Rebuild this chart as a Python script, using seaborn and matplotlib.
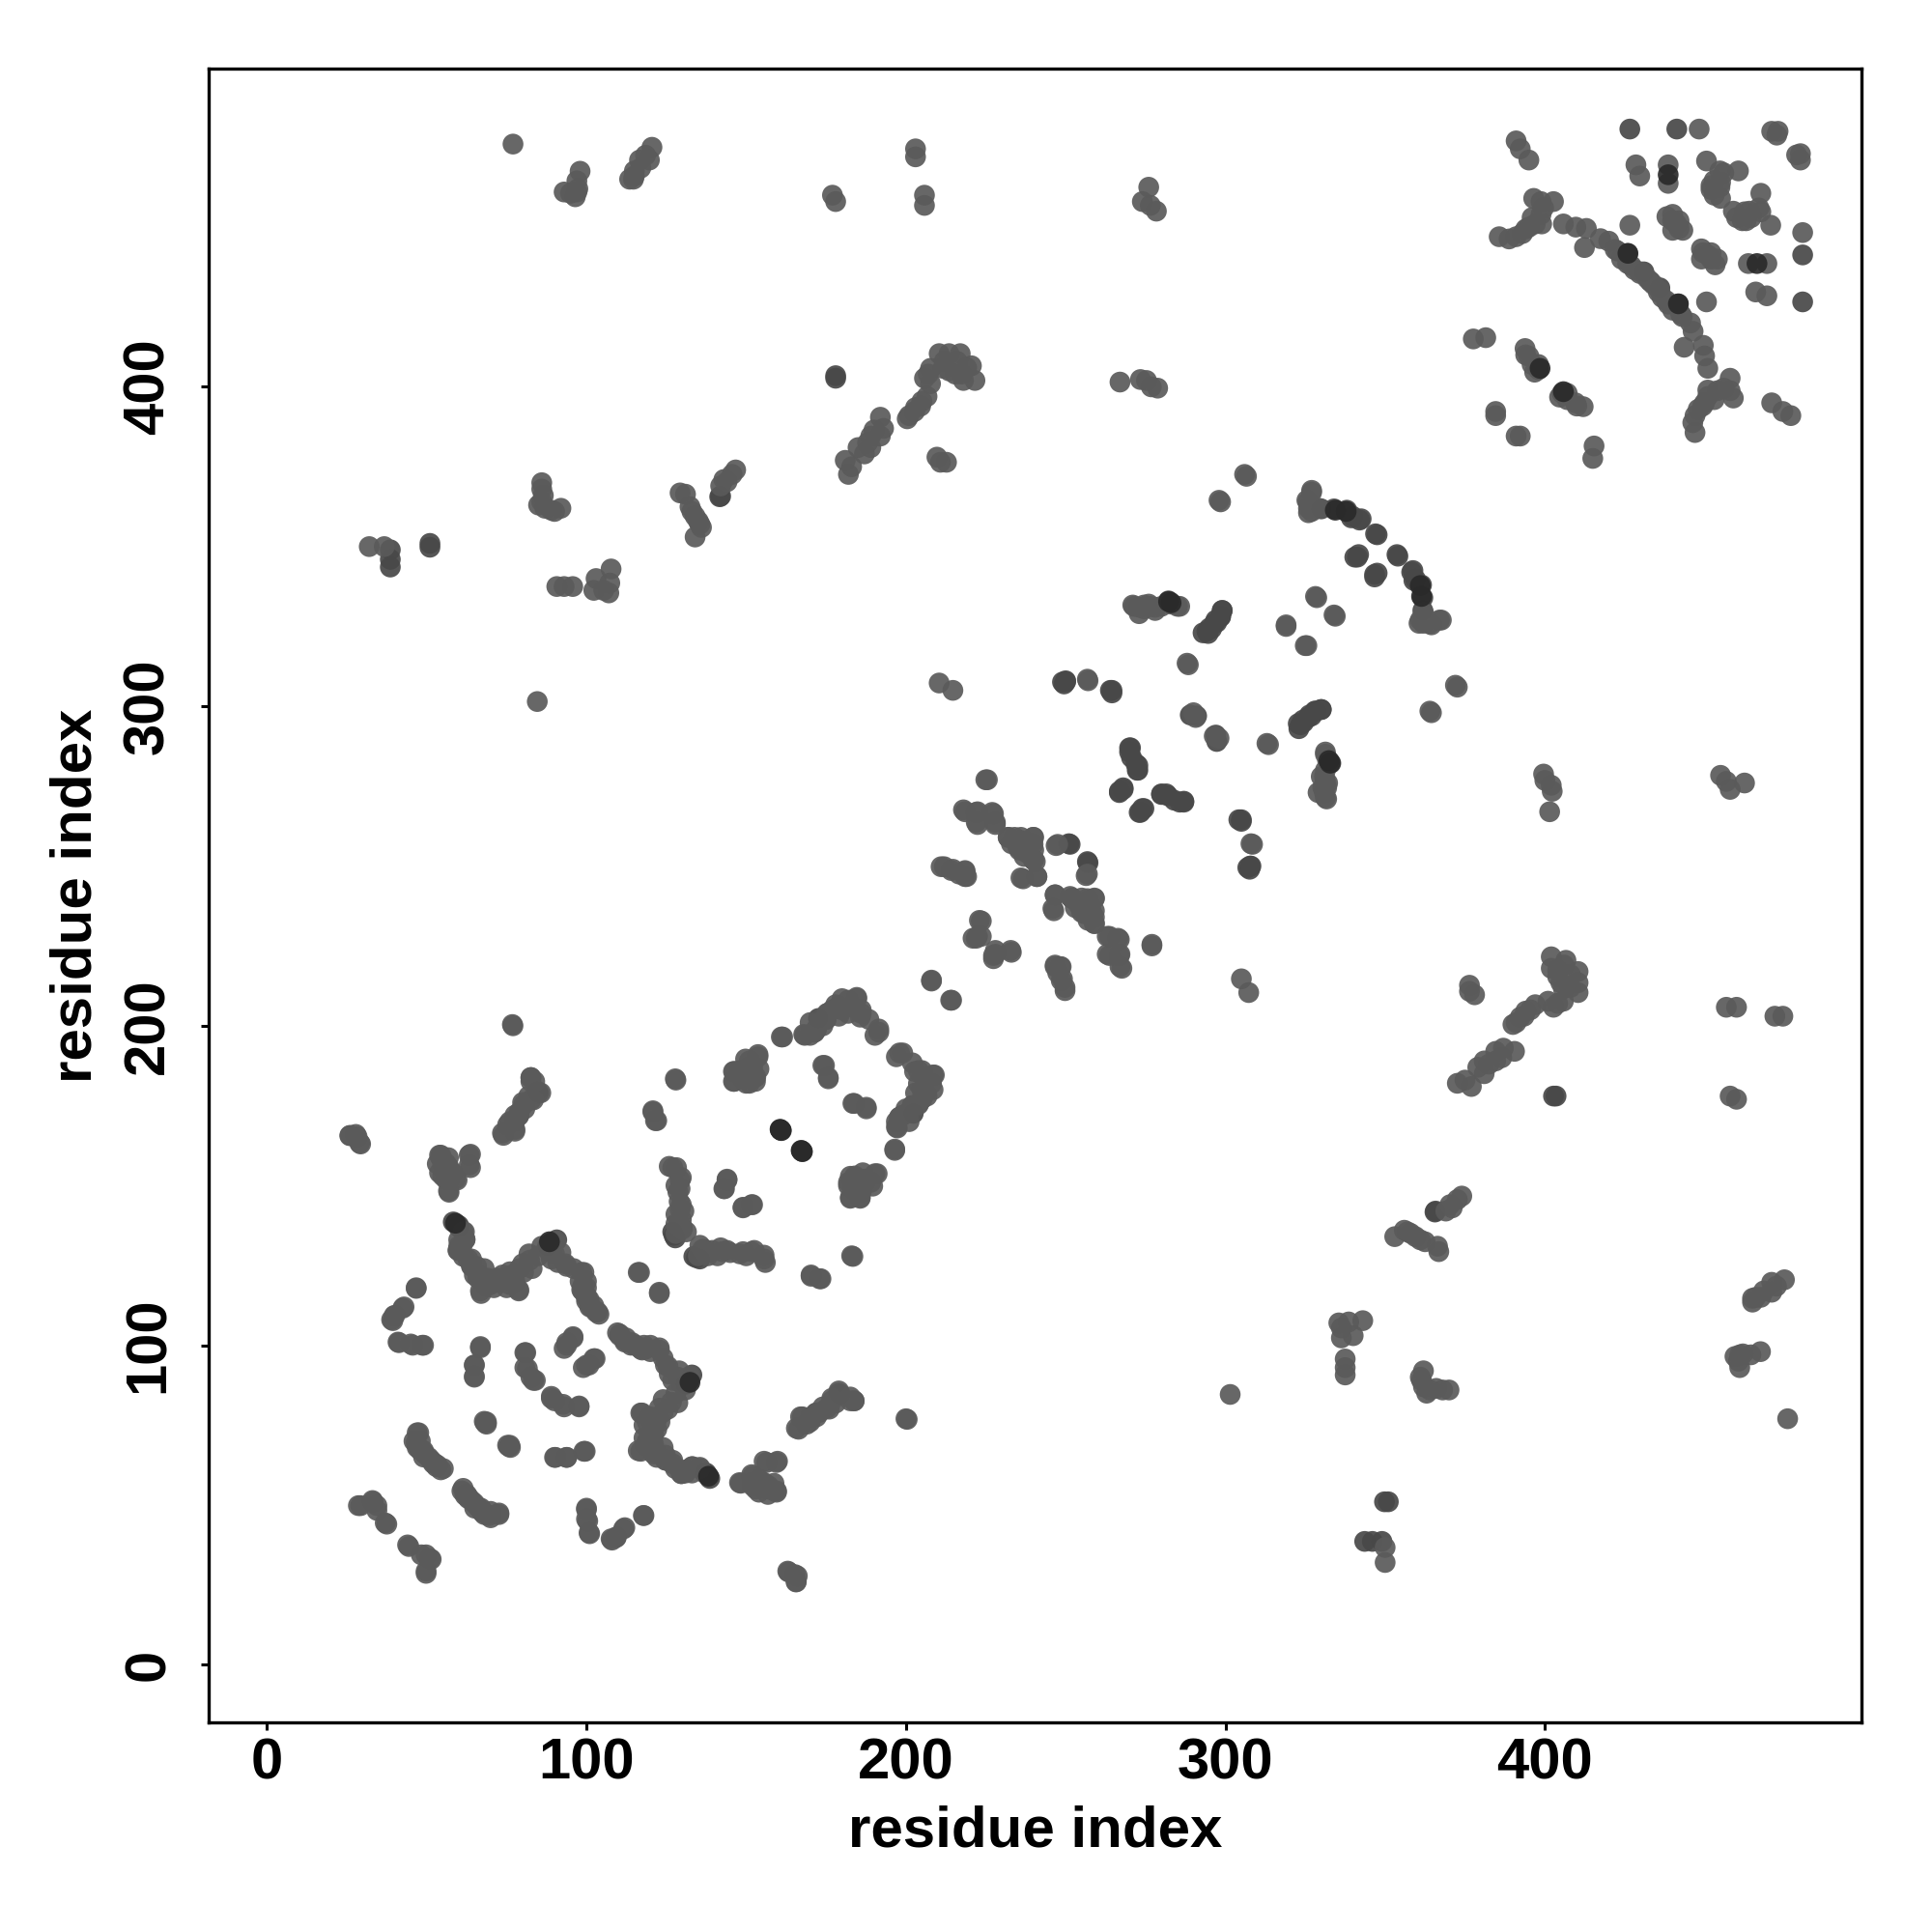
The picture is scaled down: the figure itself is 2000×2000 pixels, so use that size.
import matplotlib
matplotlib.use("Agg")
import matplotlib.pyplot as plt
import seaborn as sns
import pandas as pd

contacts_top = [(77,476),(93,461),(97,464.5),(98,467.5),(96.5,459.5),(95,460.6),(113.5,465),(115,467.6),(116.6,471),
 (120.5,475),(119.7,471),(114.7,465),(177,460),(178,458),(203,474.5),(203,472),(205.8,460),(205.8,456.8),
 (276,462.5),(274,458),(276.5,456.8),(278.4,455),(97,461),(97.3,462),(115,466),(117,468.5),(118.5,472.5)]
contacts_400 = [(181,377),(182,372.6),(185,381),(189,381),(189,384.6),(192,390.5),(192,384.6),
 (187,379),(200.4,390),(202.7,392.3),(204.6,394),(206.6,397),(205.8,402.7),(207.7,405.8),(210.4,410.4),(213.5,410.4),
 (217,410.4),(211.6,405.8),(217.4,404),(220.5,406.6),(221.6,402),(215.4,404),(207.7,401),(209.7,378),(210.8,376.4),
 (212.7,376.4),(267,401.5),(273.4,402.3),(275.3,402),(276.8,400),(278.8,399.6),(207,404),(212,408),(216,408),(219,406),
 (218,402),(201,391),(203,393.5),(205,395.5),(183,375),(188,382.5),(190,386.5),(193,387),(213.5,405)]
contacts_350 = [(32,350),(36.7,350),(86,370),(86,368),(85,363),
 (89,361.4),(92,362),(86.5,366),(90.7,337.5),(93,337.5),(95.7,337.5),(102.3,336.3),(105.4,336.3),(107,335.5),
 (103,340),(107.7,343),(107.3,338.6),(129.3,366.8),(131,366.4),(132.4,362.5),(134,359.5),(135.5,357),(134,353),
 (142,369),(144,370.3),(145.6,372.6),(146.7,374),(86,364),(87,362),(90,361),(133,361),(135,358),(136,356),(143,371)]
contacts_300 = [(84.6,301.5),(210.4,307.3),(214.7,305),(256.8,308.5)]
contacts_helix_c = [(298,364.5),(306,372.6),(325.5,364.5),(327,367.6),(326,360.6),(329.3,362),
 (367,327),(319,325),(325.5,319),(328.2,334.4),(334,328.6),
 (372,306.6),(364,298.5),(313,288.4),(271,331.7),(274.5,331.7),(276,332),(280,331.3),(285.7,331.3),
 (288,313.5),(296.5,290.7),(298,290),(308,257),(331.3,276.5),(330.5,274.5),(331.3,271.4),(361,327),(362,326),(364,325.9),
 (273,331),(278,331),(283,332),(331.3,285),(329,273),(330,278)]
contacts_helix_b = [(225,277),(218,267.6),(222,266.8),(227,266.8),(222,263.7),(228,263.7),(232,259),(236,259),(240,259),
 (240,255),(235,256),(240.5,251.4),(236,246.3),(241,246.7),(247,256.4),(256.8,247.5),(246.7,241),
 (246,236.7),(252,239.8),(256.8,239.8),(259,239.8),(255,235.5),(259,234),(259,232),
 (263,228),(266.4,227.4),(263,222.4),(267,222.4),(267,218.5),(277,225.5),(211,249.8),(214.2,248.6),(218.5,248.3),
 (218.5,246.7),(223,233),(222.4,228),(221,227.4),(227.4,222),(228,223.6),(232.8,223.6),(246.7,219),(248.6,218.5),
 (247.5,216.6),(249,214.7),(249.8,212),(208,214.3),(214,208),(240,252),(237,253),(239,257),(254,238),(258,236),(257,233)]
contacts_lower_a = [(25.9,165.6),(27.8,166),(29,163.3),(76.8,200.4),(73.7,166.4),(75.3,169),(77.6,172),(80.3,175.3),
 (82.6,176.8),(82.6,183.8),(77.6,167.6),(78.8,171.8),(83.8,182.6),(81.9,178),(54,159.5),(53.3,156.8),(54,154),(56,152),
 (56.8,148.3),(59,152),(63.3,159.5),(63.3,156.4),(56.8,158.7),(61.8,135.5),(62,133),(59.8,129.7),(62.9,127),
 (65.6,124.7),(67.6,120.8),(66.8,117),(70.7,120),(73.7,122),(78.8,117.4),(76.8,122),(80,125.5),(82,128.6),(86,131),
 (88,129.7),(90,128.6),(93.4,125.5),(64.9,122),(68.7,118.5),(98.5,122.8),(100,118),(100.8,114.3),(102.3,112.4),
 (103,110.4),(98.5,117.4),(103.9,109.7),(46.7,118),(42.5,111.6),(39.8,109.3),(39,108),(41,101),(45,100.4),(48.6,100),
 (66.8,99.6),(64.9,93.8),(64.9,90.3),(80.7,97.7),(80.7,93),(82.6,90),(84,89),(93.8,100.8),(95.8,102.3),(93,99),
 (100,93.8),(102.7,95.8),(89,83.4),(92.7,81.5),(97.7,81),(68.3,75.7),(68,76.2),(75.3,68.7),(76,68.7),(90,64.9),
 (93.8,64.9),(99.2,66.8),(60,133),(61,131),(64,125),(66,121),(71,118),(69,121),(72,120),(75,118),(77,120),(79,124),
 (83,124),(85,128),(100,115.5),(101,112),(98,120),(55,157),(57,155),(58,154),(80,176),(79,173),(76,170)]
contacts_lower_b = [(28.6,49.8),(33,51.4),(34.4,49.8),(37,44.4),(44,37.5),(48.3,34.4),(51,33.2),(49.8,29.3),(47,72.6),
 (46,70),(47.5,68),(49.4,66),(51.4,64),(53.3,62.5),(55.2,61.4),(61,54.4),(63,52.5),(64.9,50.6),(67.2,47.9),(69.5,46.7),
 (72.6,47.5),(100,49),(100,45.6),(100.8,41.3),(107.7,39.4),(109.3,40),(112,42.9),(117.8,46.7),(110.4,103.5),(112,101.5),
 (113.9,100),(117,98.8),(118.5,98.8),(122.8,99.2),(124.7,93.8),(125.9,91),(129.7,89),(132.4,90.3),(116.2,122.8),
 (122.8,116.6),(117,78.8),(120,77.6),(122.8,80.3),(126.6,82.2),(120.8,73.7),(116.2,67),(119,70),(121.6,66.8),
 (124.7,64),(127.8,61.4),(129.7,59.8),(133.2,62),(135.5,61.4),(147.9,57),(151.7,59.5),(155.6,57),(155.6,63.7),
 (159.8,63.7),(158.7,54.4),(154.8,55.6),(159.5,54.4),(163,29.3),(165.3,28.2),(165.7,26),(165.7,74),(167,77.6),
 (170.3,77.6),(172,78.8),(174,80.7),(176.8,83.4),(179,85.7),(182.6,82.6),(183.8,82.6),(200,77),(183,128),(170.3,121.6),
 (173,120.8),(115,100),(120,100),(124,96),(127,89),(129,92),(124,68),(127,64),(131,60),(121,72),(123,76),(119,76),
 (52,63),(49,67),(48,70),(62,53),(65,49),(68,47),(152,57),(157,56),(153,55)]
contacts_lower_c = [(125.9,156),(128.2,155.6),(129.3,151.7),(128.6,148),(129.3,142.5),(129.7,139.4),(131.3,135.5),
 (136.3,130),(142,130.5),(144,129.7),(149,129.3),(152.5,129.7),(155.6,127),(143.2,149),(144,151.7),(149,143),(152,144),
 (127.8,183.4),(120.8,173.4),(122,170.3),(146,185.7),(146,182.6),(149.8,189.6),(153.7,190.3),(152.5,183.8),(149,183.4),
 (161,196.5),(168,197.3),(171.4,198),(173,201),(175.7,204),(178.8,206),(181.9,208),(184.6,208.5),(185.7,202.7),
 (188.4,202),(191.5,198),(174,187.6),(175.7,183.8),(183.4,175.7),(187.6,174.5),(197,190.3),(199,191.5),(203.9,186),
 (203.9,181.9),(208.9,184.6),(208.5,180),(206.6,178),(203.9,175.3),(201,173),(198,171.4),(197,168.3),(196.5,161.4),
 (182.6,152.9),(184.6,149.8),(191,153.7),(186.5,154),(182.6,146.3),(185.7,146.3),(189,151),(200,174),(202,175),(205,180),
 (206,183),(205,186),(199,172),(201,170),(177,205),(179,203),(175,202),(172,199),(170,197),(182,150),(186,149),(187,152),
 (184,153),(148,186),(151,187),(151,182),(129,145),(128,150),(128,138),(130,137),(135,128),(141,128)]
contacts_upper_right = [(377.6,415),(381.5,415.4),(384.6,391),(384.6,392.3),(391,477),(392.3,474.5),(395,471),
 (385.7,447),(391,447),(394,449.4),(397,451),(398.8,454),(396.5,459),(398.8,458),(402.7,458),(399.6,456),(388.8,446.3),
 (405.8,451),(409.7,450),(412.4,443.6),(413,449.6),(417.4,446.4),(420,445.6),(422.8,442.5),(425.9,438.6),(428,436.7),
 (430,436),(435.5,429.7),(393.8,412),(395,409.6),(396,407),(396.8,404.6),(426.6,450.6),(428.5,469.5),(429.7,466),
 (438.6,469.5),(438.6,463.7),(438.2,453.3),(441.3,451),(443.2,449),(440,452),(448.3,480.7),(450.6,470.7),
 (454.8,467.6),(460.6,467.6),(452,461.8),(454.8,462.5),(453,460),(453,464.6),(471,480),(473,480),(472.6,478.8),
 (396,453),(399,451),(393,448),(395,450),(422,443),(424,440),(427,438),(433,433),(432,434),(440,454),(442,449.5),
 (442,452),(440,449),(398,407),(394,410),(455,464),(456,467),(452,463),(455,459)]
contacts_mid = [(178,403.5),(178,402.7),(38.6,349),(38.6,346),(38.6,343.6),(51,351),(51,349.8),(141.7,365.6),(249,307.6),
 (250,308),(264,305),(334,361.8),(338,361.4),(339.8,359.5),(342.5,358.7),(347,354),(340.5,346.7),(341.7,347.5),
 (346.7,341.3),(353.7,347.5),(358.3,342),(359,339.4),(361.8,330),(282.2,333),(294.2,323.5),(296.5,325.9),(298.5,328),
 (299,330),(295,324.5),(297,327),(293,323),(289,297.3),(291,297),(304.2,264.5),(305,264.5),(322.8,294.6),(324.3,295.7),
 (326.3,297.3),(328.2,298.5),(330,299),(270.3,287),(270.6,284),(272,282),(272.4,280),(266.8,273),(268,274.5),
 (273.4,266.8),(274,268),(280,272.6),(281.5,272.6),(285.7,270),(287,270),(256.8,251.4),(307.7,250),(307,249.5),(251,257),
 (85,179),(84.6,179.5),(441.3,480.7),(60,137.5),(58.3,138.6),(90.7,133),(88.8,132),(137,60),(131,87.8),
 (127.4,134.4),(127,135.5),(133.6,127.8),(172.6,202.3),(142,365.8),(425.9,441.7),(431,436),(398,405.4),(426.6,480.7)]
contacts_dark = [(160.6,167.6),(160.9,167.3),(167.2,161),(167.5,160.7),(138.2,59),(132.4,88.4),
 (361,337.8),(361.4,334.4),(332.4,283),(332.8,282.2),(426,441.8),(398.5,405.8),(438.6,466.4)]

sections = [contacts_top, contacts_400, contacts_350, contacts_300, contacts_helix_c, contacts_helix_b,
            contacts_lower_a, contacts_lower_b, contacts_lower_c, contacts_upper_right]
tick_values = [0, 100, 200, 300, 400]
axis_title = "residue index"

rows = []
for i, j in contacts_mid:
    rows.append((i, j, "mid"))
    rows.append((j, i, "mid"))
for sec in sections:
    for i, j in sec:
        rows.append((i, j, "normal"))
        rows.append((j, i, "normal"))
for i, j in contacts_dark:
    rows.append((i, j, "dark"))
    rows.append((j, i, "dark"))
df = pd.DataFrame(rows, columns=["i", "j", "shade"])

sns.set_style("white")
plt.rcParams["font.family"] = ["Liberation Sans", "DejaVu Sans"]
fig = plt.figure(figsize=(10, 10), dpi=200)
ax = fig.add_axes([169/1568, 1-1398/1568, (1511-169)/1568, (1398-56)/1568])
sns.scatterplot(data=df, x="i", y="j", hue="shade",
                palette={"normal": "#5a5a5a", "mid": "#484848", "dark": "#2a2a2a"},
                s=60, alpha=0.92, linewidth=0, legend=False, ax=ax)
ax.set_xlim(-18.4, 499.2)
ax.set_ylim(-18.1, 499.5)
ax.set_xticks(tick_values)
ax.set_yticks(tick_values)
ax.set_xticklabels([str(v) for v in tick_values], fontsize=21.5, fontweight="bold", color="black")
ax.set_yticklabels([str(v) for v in tick_values], fontsize=21.5, fontweight="bold", color="black", rotation=90, va="center")
ax.tick_params(axis="x", length=3, width=1.1, color="black", bottom=True, pad=2.6)
ax.tick_params(axis="y", length=3, width=1.1, color="black", left=True, pad=9.2)
ax.set_xlabel(axis_title, fontsize=21.6, fontweight="bold", color="black", labelpad=5.2)
ax.set_ylabel(axis_title, fontsize=21.6, fontweight="bold", color="black", labelpad=7.4)
for s in ax.spines.values():
    s.set_visible(True)
    s.set_color("black")
    s.set_linewidth(1.2)
fig.savefig("out.png", dpi=200, facecolor="white")
